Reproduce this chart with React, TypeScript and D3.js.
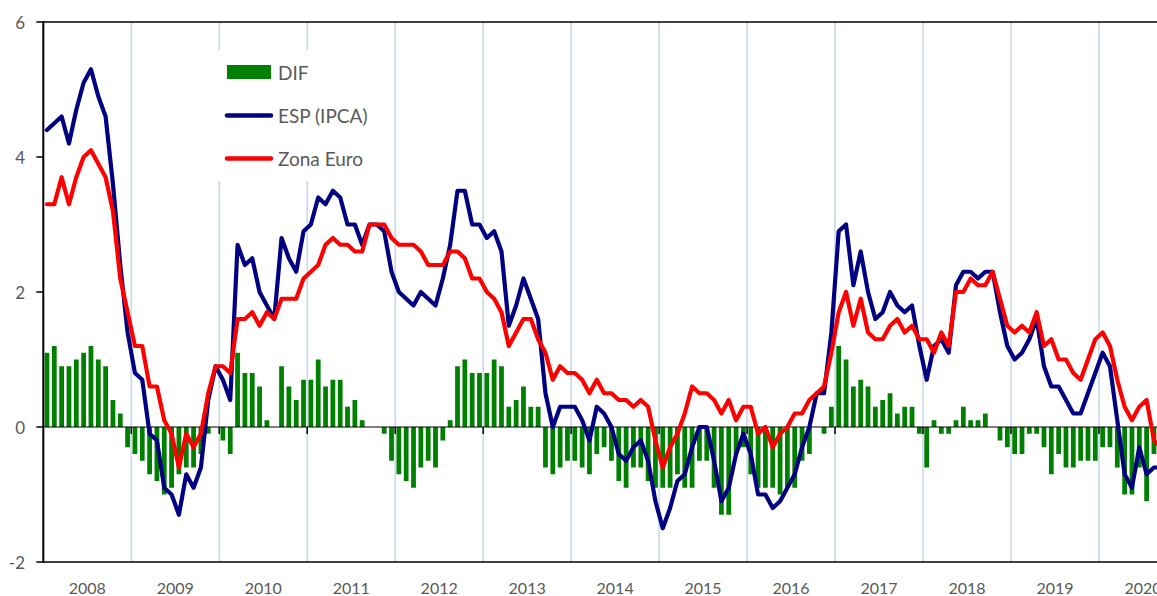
import React from 'react';
import * as d3 from 'd3';

// Monthly data, Jan 2008 onward (ESP = Spain HICP, Zona Euro, DIF = ESP - Zona Euro)
const years = ['2008', '2009', '2010', '2011', '2012', '2013', '2014', '2015', '2016', '2017', '2018', '2019', '2020'];

const esp = [
  4.4, 4.5, 4.6, 4.2, 4.7, 5.1, 5.3, 4.9, 4.6, 3.6, 2.4, 1.4,
  0.8, 0.7, -0.1, -0.2, -0.9, -1.0, -1.3, -0.7, -0.9, -0.6, 0.4, 0.9,
  0.7, 0.4, 2.7, 2.4, 2.5, 2.0, 1.8, 1.6, 2.8, 2.5, 2.3, 2.9,
  3.0, 3.4, 3.3, 3.5, 3.4, 3.0, 3.0, 2.7, 3.0, 3.0, 2.9, 2.3,
  2.0, 1.9, 1.8, 2.0, 1.9, 1.8, 2.2, 2.7, 3.5, 3.5, 3.0, 3.0,
  2.8, 2.9, 2.6, 1.5, 1.8, 2.2, 1.9, 1.6, 0.5, 0.0, 0.3, 0.3,
  0.3, 0.1, -0.2, 0.3, 0.2, 0.0, -0.4, -0.5, -0.3, -0.2, -0.5, -1.1,
  -1.5, -1.2, -0.8, -0.7, -0.3, 0.0, 0.0, -0.5, -1.1, -0.9, -0.4, -0.1,
  -0.4, -1.0, -1.0, -1.2, -1.1, -0.9, -0.7, -0.3, 0.0, 0.5, 0.5, 1.4,
  2.9, 3.0, 2.1, 2.6, 2.0, 1.6, 1.7, 2.0, 1.8, 1.7, 1.8, 1.2,
  0.7, 1.2, 1.3, 1.1, 2.1, 2.3, 2.3, 2.2, 2.3, 2.3, 1.7, 1.2,
  1.0, 1.1, 1.3, 1.6, 0.9, 0.6, 0.6, 0.4, 0.2, 0.2, 0.5, 0.8,
  1.1, 0.9, 0.1, -0.7, -0.9, -0.3, -0.7, -0.6, -0.6,
];

const zonaEuro = [
  3.3, 3.3, 3.7, 3.3, 3.7, 4.0, 4.1, 3.9, 3.7, 3.2, 2.2, 1.7,
  1.2, 1.2, 0.6, 0.6, 0.1, -0.1, -0.6, -0.1, -0.3, -0.1, 0.5, 0.9,
  0.9, 0.8, 1.6, 1.6, 1.7, 1.5, 1.7, 1.6, 1.9, 1.9, 1.9, 2.2,
  2.3, 2.4, 2.7, 2.8, 2.7, 2.7, 2.6, 2.6, 3.0, 3.0, 3.0, 2.8,
  2.7, 2.7, 2.7, 2.6, 2.4, 2.4, 2.4, 2.6, 2.6, 2.5, 2.2, 2.2,
  2.0, 1.9, 1.7, 1.2, 1.4, 1.6, 1.6, 1.3, 1.1, 0.7, 0.9, 0.8,
  0.8, 0.7, 0.5, 0.7, 0.5, 0.5, 0.4, 0.4, 0.3, 0.4, 0.3, -0.2,
  -0.6, -0.3, -0.1, 0.2, 0.6, 0.5, 0.5, 0.4, 0.2, 0.4, 0.1, 0.3,
  0.3, -0.1, 0.0, -0.3, -0.1, 0.0, 0.2, 0.2, 0.4, 0.5, 0.6, 1.1,
  1.7, 2.0, 1.5, 1.9, 1.4, 1.3, 1.3, 1.5, 1.6, 1.4, 1.5, 1.3,
  1.3, 1.1, 1.4, 1.2, 2.0, 2.0, 2.2, 2.1, 2.1, 2.3, 1.9, 1.5,
  1.4, 1.5, 1.4, 1.7, 1.2, 1.3, 1.0, 1.0, 0.8, 0.7, 1.0, 1.3,
  1.4, 1.2, 0.7, 0.3, 0.1, 0.3, 0.4, -0.2, -0.3,
];

const dif = [
  1.1, 1.2, 0.9, 0.9, 1.0, 1.1, 1.2, 1.0, 0.9, 0.4, 0.2, -0.3,
  -0.4, -0.5, -0.7, -0.8, -1.0, -0.9, -0.7, -0.6, -0.6, -0.4, -0.1, 0.0,
  -0.2, -0.4, 1.1, 0.8, 0.8, 0.6, 0.1, 0.0, 0.9, 0.6, 0.4, 0.7,
  0.7, 1.0, 0.6, 0.7, 0.7, 0.3, 0.4, 0.1, 0.0, 0.0, -0.1, -0.5,
  -0.7, -0.8, -0.9, -0.6, -0.5, -0.6, -0.2, 0.1, 0.9, 1.0, 0.8, 0.8,
  0.8, 1.0, 0.9, 0.3, 0.4, 0.6, 0.3, 0.3, -0.6, -0.7, -0.6, -0.5,
  -0.5, -0.6, -0.7, -0.4, -0.3, -0.5, -0.8, -0.9, -0.6, -0.6, -0.8, -0.9,
  -0.9, -0.9, -0.7, -0.9, -0.9, -0.5, -0.5, -0.9, -1.3, -1.3, -0.4, -0.3,
  -0.7, -0.9, -0.9, -0.9, -1.0, -0.9, -0.9, -0.5, -0.4, 0.0, -0.1, 0.3,
  1.2, 1.0, 0.6, 0.7, 0.6, 0.3, 0.4, 0.5, 0.2, 0.3, 0.3, -0.1,
  -0.6, 0.1, -0.1, -0.1, 0.1, 0.3, 0.1, 0.1, 0.2, 0.0, -0.2, -0.3,
  -0.4, -0.4, -0.1, -0.1, -0.3, -0.7, -0.4, -0.6, -0.6, -0.5, -0.5, -0.5,
  -0.3, -0.3, -0.6, -1.0, -1.0, -0.6, -1.1, -0.4, -0.3,
];

const yTicks = [-2, 0, 2, 4, 6];

const W = 1157;
const H = 596;
const left = 43.3;
const monthW = 7.331;
const nMonths = years.length * 12;
const right = left + nMonths * monthW;

const FONT = 'Lato, "Liberation Sans", sans-serif';
const GREY = '#595959';

export default function App() {
  const x = d3.scaleBand<number>()
    .domain(d3.range(nMonths))
    .range([left, right])
    .paddingInner(0.35)
    .paddingOuter(0.175);
  const xm = d3.scaleLinear().domain([0, nMonths]).range([left, right]);
  const y = d3.scaleLinear().domain([-2, 6]).range([562, 22]);
  const cx = (i: number) => (x(i) as number) + x.bandwidth() / 2;

  const line = d3.line<number>()
    .x((_, i) => cx(i))
    .y((d) => y(d));

  return (
    <svg width={W} height={H} style={{ position: 'absolute', left: 0, top: 0, background: '#fff' }}>
      {/* year gridlines */}
      {years.slice(1).map((_, k) => (
        <line key={'g' + k} x1={xm((k + 1) * 12)} x2={xm((k + 1) * 12)} y1={y(6)} y2={y(-2)}
          stroke="#c9d8ec" strokeWidth={1.6} />
      ))}

      {/* legend background */}
      <rect x={205} y={50} width={188} height={131} fill="#fff" />

      {/* DIF bars */}
      {dif.map((d, i) => (
        <rect key={'b' + i} x={x(i)} width={x.bandwidth()}
          y={Math.min(y(d), y(0))} height={Math.abs(y(d) - y(0))} fill="#008000" />
      ))}

      {/* frame and axes */}
      <line x1={left} x2={right} y1={y(6)} y2={y(6)} stroke="#000" strokeWidth={1.5} />
      <line x1={left} x2={right} y1={y(-2)} y2={y(-2)} stroke="#000" strokeWidth={1.5} />
      <line x1={left} x2={right} y1={y(0)} y2={y(0)} stroke="#000" strokeWidth={1} />
      {years.slice(1).map((_, k) => (
        <line key={'t' + k} x1={xm((k + 1) * 12)} x2={xm((k + 1) * 12)} y1={y(0)} y2={y(0) + 7}
          stroke="#000" strokeWidth={1.5} />
      ))}
      <line x1={left} x2={left} y1={y(6) - 1} y2={y(-2) + 1} stroke="#000" strokeWidth={2} />
      {yTicks.map((t) => (
        <g key={'y' + t}>
          <line x1={left - 7} x2={left} y1={y(t)} y2={y(t)} stroke="#000" strokeWidth={1.5} />
          <text x={25} y={y(t)} textAnchor="end" dominantBaseline="central"
            fontFamily={FONT} fontSize={17} fill={GREY}>{t}</text>
        </g>
      ))}
      {years.map((yr, k) => (
        <text key={yr} x={xm(k * 12 + 6)} y={594} textAnchor="middle"
          fontFamily={FONT} fontSize={16} fill={GREY}>{yr}</text>
      ))}

      {/* lines */}
      <path d={line(esp) ?? ''} fill="none" stroke="#000080" strokeWidth={4.2}
        strokeLinejoin="round" strokeLinecap="round" />
      <path d={line(zonaEuro) ?? ''} fill="none" stroke="#ff0000" strokeWidth={4.2}
        strokeLinejoin="round" strokeLinecap="round" />

      {/* legend */}
      <rect x={227} y={65} width={44} height={14} fill="#008000" />
      <text x={278} y={72} dominantBaseline="central" fontFamily={FONT} fontSize={19} fill={GREY}>DIF</text>
      <line x1={227} x2={271} y1={115.5} y2={115.5} stroke="#000080" strokeWidth={4.5} strokeLinecap="round" />
      <text x={278} y={115.5} dominantBaseline="central" fontFamily={FONT} fontSize={19} fill={GREY}>ESP (IPCA)</text>
      <line x1={227} x2={271} y1={158.5} y2={158.5} stroke="#ff0000" strokeWidth={4.5} strokeLinecap="round" />
      <text x={278} y={158.5} dominantBaseline="central" fontFamily={FONT} fontSize={19} fill={GREY}>Zona Euro</text>
    </svg>
  );
}
